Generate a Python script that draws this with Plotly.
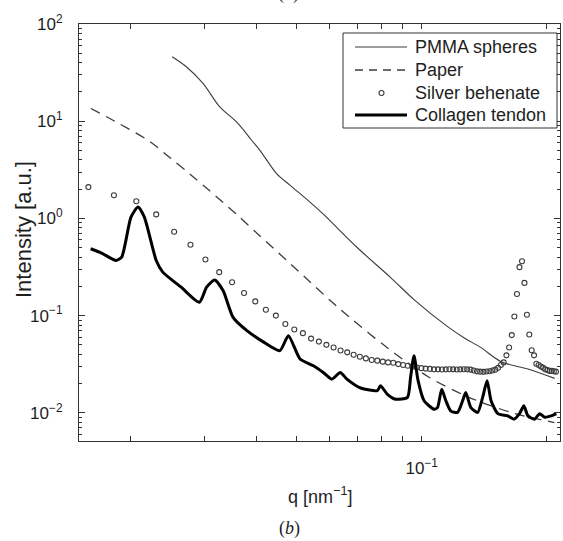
import plotly.graph_objects as go

# ---- Data (q in nm^-1, intensity in a.u.) ----
pmma_q = [0.02513, 0.02717, 0.02980, 0.03269, 0.03588, 0.03901, 0.04084, 0.04478, 0.04827,
          0.05395, 0.05808, 0.06994, 0.08420, 0.09580, 0.11540, 0.12630, 0.13880, 0.15520,
          0.18000, 0.20870]
pmma_i = [46.0, 36.3, 24.5, 14.04, 9.83, 6.37, 5.02, 2.89, 2.19,
          1.462, 1.10, 0.502, 0.2464, 0.1462, 0.0770, 0.0593, 0.0468, 0.0336,
          0.0282, 0.0226]

paper_q = [0.01602, 0.01875, 0.02215, 0.02475, 0.02767, 0.03093, 0.03588, 0.04084, 0.04738,
           0.05296, 0.06142, 0.06673, 0.08262, 0.1032, 0.1290, 0.1668, 0.2084]
paper_i = [13.52, 9.42, 6.22, 4.25, 2.876, 1.921, 1.10, 0.660, 0.369,
           0.2378, 0.1330, 0.0977, 0.0468, 0.02378, 0.01462, 0.00988, 0.00794]

silver_q = [0.0158, 0.0182, 0.0206, 0.0230, 0.0254, 0.0278, 0.0302, 0.0326, 0.0350,
            0.0374, 0.0398, 0.0422, 0.0446, 0.0470, 0.0494, 0.0518, 0.0542, 0.0566,
            0.0590, 0.0614, 0.0638, 0.0662, 0.0686, 0.0710, 0.0734, 0.0758, 0.0782,
            0.0806, 0.0830, 0.0854, 0.0878, 0.0902, 0.0926, 0.0950, 0.0974, 0.0998,
            0.1022, 0.1046, 0.1070, 0.1094, 0.1118, 0.1142, 0.1166, 0.1190, 0.1214,
            0.1238, 0.1262, 0.1286, 0.1310, 0.1334, 0.1358, 0.1382, 0.1406, 0.1430,
            0.1454, 0.1478, 0.1502, 0.1526, 0.1550, 0.1574, 0.1598, 0.1622, 0.1646,
            0.1670, 0.1694, 0.1718, 0.1742, 0.1766, 0.1790, 0.1814, 0.1838, 0.1862,
            0.1886, 0.1910, 0.1934, 0.1958, 0.1982, 0.2006, 0.2030, 0.2054, 0.2078,
            0.2102]
silver_i = [2.1, 1.73, 1.5, 1.1, 0.73, 0.535, 0.378, 0.28, 0.22,
            0.171, 0.14, 0.115, 0.1, 0.082, 0.072, 0.066, 0.058, 0.054,
            0.050, 0.047, 0.0438, 0.0419, 0.0396, 0.0377, 0.0363, 0.0349, 0.0344,
            0.0336, 0.033, 0.0327, 0.0317, 0.031, 0.0305, 0.0297, 0.0292, 0.0288,
            0.0285, 0.0283, 0.028, 0.028, 0.0279, 0.028, 0.0281, 0.028, 0.0279,
            0.028, 0.0281, 0.028, 0.0278, 0.0272, 0.0267, 0.0265, 0.0264, 0.0266,
            0.0268, 0.0272, 0.0278, 0.029, 0.031, 0.033, 0.039, 0.047, 0.063,
            0.098, 0.167, 0.315, 0.363, 0.217, 0.102, 0.064, 0.044, 0.039,
            0.032, 0.031, 0.030, 0.029, 0.028, 0.0275, 0.027, 0.027, 0.0268,
            0.0265]

collagen_q = [0.0160, 0.0170, 0.0184, 0.0190, 0.0200, 0.0208, 0.02154, 0.0230, 0.02385,
              0.0264, 0.0292, 0.0304, 0.0318, 0.0333, 0.0352, 0.0380, 0.0415, 0.0456,
              0.0478, 0.0510, 0.0549, 0.0580, 0.0608, 0.0637, 0.0661, 0.0713, 0.0782,
              0.0796, 0.0826, 0.0865, 0.0924, 0.0940, 0.0958, 0.0980, 0.1013, 0.1070,
              0.1091, 0.1117, 0.1143, 0.1175, 0.1219, 0.1254, 0.1276, 0.1313, 0.1363,
              0.1401, 0.1436, 0.1468, 0.1524, 0.1610, 0.1667, 0.1718, 0.1760, 0.1800,
              0.1867, 0.1920, 0.1974, 0.2048, 0.2107]
collagen_i = [0.487, 0.44, 0.369, 0.40, 1.03, 1.31, 1.03, 0.369, 0.28,
              0.196, 0.137, 0.196, 0.233, 0.181, 0.096, 0.070, 0.054, 0.0436,
              0.062, 0.0358, 0.0305, 0.026, 0.0222, 0.026, 0.0222, 0.018, 0.0169,
              0.019, 0.0156, 0.0138, 0.0144, 0.0231, 0.0387, 0.0214, 0.0133, 0.0109,
              0.0113, 0.0175, 0.0133, 0.0104, 0.0101, 0.0133, 0.0162, 0.0113, 0.0101,
              0.0144, 0.0214, 0.0133, 0.0098, 0.0093, 0.0086, 0.0098, 0.0118, 0.0093,
              0.0086, 0.0098, 0.0090, 0.0093, 0.0098]

legend_labels = ["PMMA spheres", "Paper", "Silver behenate", "Collagen tendon"]

x_major = [0.02, 0.03, 0.04, 0.05, 0.06, 0.07, 0.08, 0.09, 0.1, 0.2]
x_major_text = ["", "", "", "", "", "", "", "", "10<sup>\u22121</sup>", ""]
y_major = [0.01, 0.1, 1, 10, 100]
y_major_text = ["10<sup>\u22122</sup>", "10<sup>\u22121</sup>", "10<sup>0</sup>",
                "10<sup>1</sup>", "10<sup>2</sup>"]
y_minor = [m * 10.0 ** k for k in range(-3, 2) for m in range(2, 10)]

# ---- Figure geometry ----
W, H = 563, 541
ML, MR, MT, MB = 79, 3, 24, 100
PW, PH = W - ML - MR, H - MT - MB
X_RANGE = [-1.8239, -0.6676]
Y_RANGE = [-2.29, 2.0]

def px(x):
    return (x - ML) / PW

def py(y):
    return (H - MB - y) / PH

INK = "#333333"
TXT = "#1e1e1e"
FONT = "Liberation Sans, Arial, Helvetica, sans-serif"
SERIF = "Liberation Serif, Times New Roman, serif"

fig = go.Figure()
fig.add_trace(go.Scatter(x=pmma_q, y=pmma_i, mode="lines", name=legend_labels[0],
                         line=dict(color="#3c3c3c", width=1.1, shape="spline", smoothing=0.9)))
fig.add_trace(go.Scatter(x=paper_q, y=paper_i, mode="lines", name=legend_labels[1],
                         line=dict(color="#3c3c3c", width=1.3, dash="10px,7px",
                                   shape="spline", smoothing=0.9)))
fig.add_trace(go.Scatter(x=silver_q, y=silver_i, mode="markers", name=legend_labels[2],
                         marker=dict(symbol="circle-open", size=5, color="#3c3c3c",
                                     line=dict(width=1.1, color="#3c3c3c"))))
fig.add_trace(go.Scatter(x=collagen_q, y=collagen_i, mode="lines", name=legend_labels[3],
                         line=dict(color="#000000", width=3, shape="spline", smoothing=0.6)))
# empty trace that carries the right-hand tick axis
fig.add_trace(go.Scatter(x=[], y=[], yaxis="y2", showlegend=False, hoverinfo="skip"))

axis_common = dict(
    type="log", showgrid=False, zeroline=False,
    showline=True, linecolor=INK, linewidth=1,
    ticks="inside", tickcolor=INK, tickwidth=1,
    tickfont=dict(family=FONT, size=17, color=TXT),
)
y_minor_ticks = dict(tickmode="array", tickvals=y_minor, ticks="inside",
                     ticklen=3, tickcolor=INK, tickwidth=1)

fig.update_layout(
    xaxis=dict(**axis_common, mirror="ticks", range=X_RANGE,
               tickmode="array", tickvals=x_major, ticktext=x_major_text,
               ticklen=5, ticklabelstandoff=12),
    yaxis=dict(**axis_common, mirror=True, range=Y_RANGE,
               tickmode="array", tickvals=y_major, ticktext=y_major_text,
               ticklen=6, ticklabelstandoff=12, minor=y_minor_ticks),
    yaxis2=dict(**axis_common, overlaying="y", side="right", range=Y_RANGE,
                tickmode="array", tickvals=y_major, showticklabels=False,
                ticklen=6, minor=y_minor_ticks),
)

# ---- Legend box in the upper right corner ----
shapes = [dict(type="rect", xref="paper", yref="paper",
               x0=px(343), x1=px(557), y0=py(128), y1=py(33),
               line=dict(color=INK, width=1), fillcolor="white", layer="above")]
rows = [47, 70, 93, 115]
shapes.append(dict(type="line", xref="paper", yref="paper", x0=px(355), x1=px(407),
                   y0=py(rows[0]), y1=py(rows[0]), line=dict(color="#3c3c3c", width=1.1)))
shapes.append(dict(type="line", xref="paper", yref="paper", x0=px(355), x1=px(407),
                   y0=py(rows[1]), y1=py(rows[1]),
                   line=dict(color="#3c3c3c", width=1.3, dash="8px,6px")))
shapes.append(dict(type="circle", xref="paper", yref="paper",
                   x0=px(379), x1=px(384), y0=py(rows[2] + 2.5), y1=py(rows[2] - 2.5),
                   line=dict(color="#3c3c3c", width=1.1)))
shapes.append(dict(type="line", xref="paper", yref="paper", x0=px(355), x1=px(407),
                   y0=py(rows[3]), y1=py(rows[3]), line=dict(color="#000000", width=3)))

annotations = []
for label, r in zip(legend_labels, rows):
    annotations.append(dict(text=label, xref="paper", yref="paper", x=px(413), y=py(r),
                            xanchor="left", yanchor="middle", showarrow=False,
                            font=dict(family=FONT, size=18, color=TXT)))

annotations += [
    dict(text="Intensity [a.u.]", xref="paper", yref="paper", x=px(23), y=py(230),
         textangle=-90, xanchor="center", yanchor="middle", showarrow=False,
         font=dict(family=FONT, size=22, color=TXT)),
    dict(text="q [nm<sup>\u22121</sup>]", xref="paper", yref="paper", x=px(320), y=py(495),
         xanchor="center", yanchor="middle", showarrow=False,
         font=dict(family=FONT, size=18, color=TXT)),
    dict(text="(<i>b</i>)", xref="paper", yref="paper", x=px(289), y=py(528),
         xanchor="center", yanchor="middle", showarrow=False,
         font=dict(family=SERIF, size=18, color=TXT)),
    dict(text="(<i>a</i>)", xref="paper", yref="paper", x=px(288), y=py(6),
         xanchor="center", yanchor="bottom", showarrow=False,
         font=dict(family=SERIF, size=18, color=TXT)),
]

fig.update_layout(
    width=W, height=H,
    margin=dict(l=ML, r=MR, t=MT, b=MB, pad=0),
    paper_bgcolor="white", plot_bgcolor="white",
    showlegend=False,
    shapes=shapes, annotations=annotations,
)

fig.write_html("out.html")
